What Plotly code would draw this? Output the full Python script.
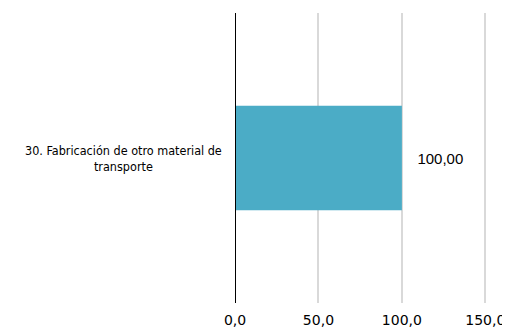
import plotly.graph_objects as go

categorias = ["30. Fabricación de otro material de transporte"]
valores = [100.0]
etiquetas_eje = ["30. Fabricación de otro material de<br>transporte"]

fuente = "DejaVu Sans Condensed, DejaVu Sans, sans-serif"

fig = go.Figure()
fig.add_trace(go.Bar(
    y=categorias,
    x=valores,
    orientation="h",
    marker=dict(color="#4BACC6", line=dict(width=0)),
    text=valores,
    texttemplate="   %{x:.2f}",
    textposition="outside",
    textfont=dict(family="Liberation Sans, Arial, sans-serif", size=15, color="#000000"),
    cliponaxis=False,
))

for cat, lab in zip(categorias, etiquetas_eje):
    fig.add_annotation(
        x=0, xref="paper", y=cat, yref="y",
        text=lab, showarrow=False, xanchor="right", xshift=-11,
        align="center", font=dict(family=fuente, size=12.5, color="#000000"),
    )

fig.update_layout(
    width=502, height=327,
    margin=dict(l=227, r=22.6, t=5, b=32, autoexpand=False),
    paper_bgcolor="white", plot_bgcolor="white",
    separators=",.",
    bargap=0.64,
    showlegend=False,
    xaxis=dict(
        range=[0, 151], tickvals=[0, 50, 100, 150], tickformat=".1f",
        showgrid=True, gridcolor="#D9D9D9", gridwidth=2,
        zeroline=False, showline=False, ticks="", automargin=False,
        ticklabelstandoff=7,
        tickfont=dict(family="DejaVu Sans, sans-serif", size=14, color="#000000"),
    ),
    yaxis=dict(
        showticklabels=False, showgrid=False, zeroline=False,
        showline=False, ticks="", automargin=False,
    ),
    shapes=[dict(type="line", xref="x", yref="paper", x0=0, x1=0, y0=0, y1=1,
                 line=dict(color="black", width=2))],
)

fig.write_html("out.html")
